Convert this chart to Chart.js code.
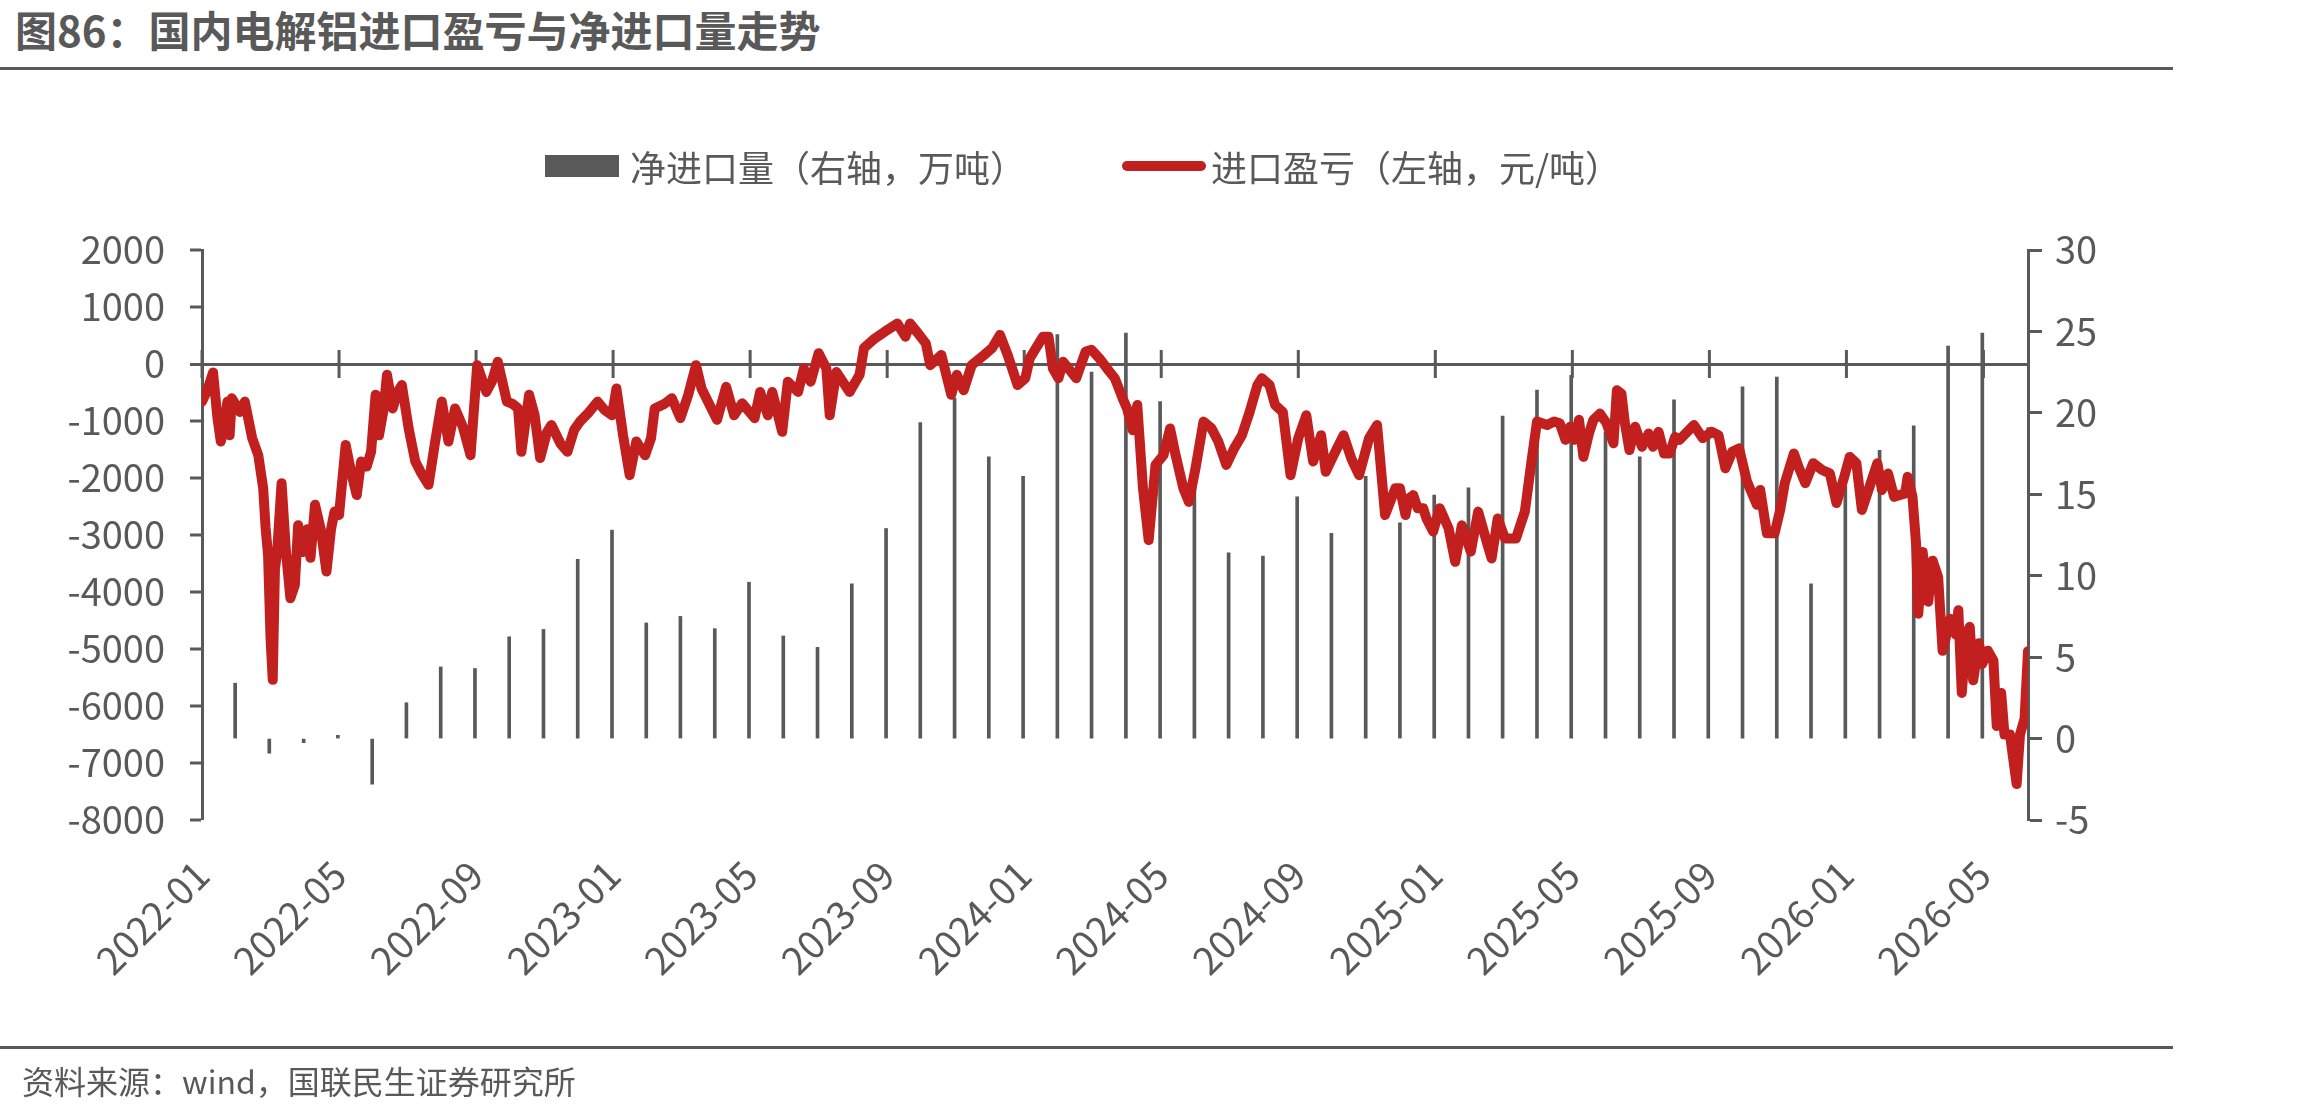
<!DOCTYPE html>
<html lang="zh-CN">
<head>
<meta charset="utf-8">
<title>国内电解铝进口盈亏与净进口量走势</title>
<script src="https://cdn.jsdelivr.net/npm/chart.js@4.4.1/dist/chart.umd.min.js"></script>
<style>
  body { margin: 0; background: #fff; }
  #marco {
    position: relative; width: 2310px; height: 1110px; overflow: hidden;
    font-family: "Noto Sans CJK SC", "Noto Sans", sans-serif; color: #595959;
  }
  #grafico { position: absolute; left: 0; top: 0; }
  .titulo { position: absolute; left: 15px; top: 8px; font-size: 42px; line-height: 42px; font-weight: 700; white-space: nowrap; }
  .regla { position: absolute; left: 0; width: 2173px; height: 3px; background: #595959; }
  .leyenda { position: absolute; top: 148px; font-size: 36px; line-height: 36px; white-space: nowrap; }
  .caja { position: absolute; left: 545px; top: 155px; width: 74px; height: 22px; background: #595959; }
  .linea { position: absolute; left: 1122px; top: 161px; width: 84px; height: 10px; border-radius: 5px; background: #C1201F; }
  .fuente { position: absolute; left: 22px; top: 1064px; font-size: 32px; line-height: 32px; white-space: nowrap; }
</style>
</head>
<body>
<div id="marco">
  <div class="titulo">图86：国内电解铝进口盈亏与净进口量走势</div>
  <div class="regla" style="top:67px"></div>
  <canvas id="grafico" width="2310" height="1110"></canvas>
  <div class="caja"></div>
  <div class="leyenda" style="left:630px">净进口量（右轴，万吨）</div>
  <div class="linea"></div>
  <div class="leyenda" style="left:1211px">进口盈亏（左轴，元/吨）</div>
  <div class="regla" style="top:1046px"></div>
  <div class="fuente">资料来源：wind，国联民生证券研究所</div>
</div>
<script>
// 净进口量（万吨），月度
const importMonths = [
  '2022-01','2022-02','2022-03','2022-04','2022-05','2022-06','2022-07','2022-08','2022-09','2022-10','2022-11','2022-12',
  '2023-01','2023-02','2023-03','2023-04','2023-05','2023-06','2023-07','2023-08','2023-09','2023-10','2023-11','2023-12',
  '2024-01','2024-02','2024-03','2024-04','2024-05','2024-06','2024-07','2024-08','2024-09','2024-10','2024-11','2024-12',
  '2025-01','2025-02','2025-03','2025-04','2025-05','2025-06','2025-07','2025-08','2025-09','2025-10','2025-11','2025-12',
  '2026-01','2026-02','2026-03','2026-04'
];
const netImport = [
  3.4, -0.9, -0.25, 0.2, -2.8, 2.2, 4.4, 4.3, 6.25, 6.7, 11.0, 12.8,
  7.1, 7.5, 6.75, 9.6, 6.3, 5.6, 9.5, 12.9, 19.4, 20.9, 17.3, 16.1,
  24.8, 22.5, 24.9, 20.7, 16.0, 11.4, 11.2, 14.85, 12.6, 16.1, 13.25, 14.95,
  15.4, 19.8, 21.4, 22.3, 18.8, 17.3, 20.8, 19.1, 21.6, 22.2, 9.5, 15.5,
  17.7, 19.2, 24.1, 24.9
];

// 进口盈亏（元/吨），按日期
const profitDates = [
  '2022-01-01','2022-01-06','2022-01-11','2022-01-15','2022-01-18','2022-01-21','2022-01-24','2022-01-26','2022-01-28',
  '2022-02-04','2022-02-08','2022-02-14','2022-02-19','2022-02-23','2022-02-25','2022-02-27',
  '2022-03-01','2022-03-03','2022-03-05','2022-03-07','2022-03-11','2022-03-15','2022-03-19','2022-03-23','2022-03-26','2022-03-30',
  '2022-04-03','2022-04-06','2022-04-10','2022-04-15','2022-04-20','2022-04-24','2022-04-27',
  '2022-05-01','2022-05-07','2022-05-12','2022-05-17','2022-05-21','2022-05-26','2022-05-30',
  '2022-06-03','2022-06-06','2022-06-10','2022-06-13','2022-06-18','2022-06-22','2022-06-26',
  '2022-07-02','2022-07-08','2022-07-13','2022-07-20','2022-07-26',
  '2022-08-01','2022-08-07','2022-08-13','2022-08-20','2022-08-27',
  '2022-09-02','2022-09-10','2022-09-15','2022-09-20','2022-09-28',
  '2022-10-03','2022-10-08','2022-10-11','2022-10-18','2022-10-23','2022-10-28',
  '2022-11-03','2022-11-07','2022-11-15','2022-11-21','2022-11-27',
  '2022-12-02','2022-12-10','2022-12-18','2022-12-24','2022-12-31',
  '2023-01-04','2023-01-10','2023-01-16','2023-01-22','2023-01-30',
  '2023-02-04','2023-02-07','2023-02-15','2023-02-21','2023-02-28',
  '2023-03-07','2023-03-14','2023-03-19',
  '2023-04-02','2023-04-10','2023-04-17','2023-04-24',
  '2023-05-05','2023-05-10','2023-05-17','2023-05-21','2023-05-30',
  '2023-06-04','2023-06-13','2023-06-18','2023-06-24',
  '2023-07-01','2023-07-08','2023-07-11','2023-07-17','2023-07-29',
  '2023-08-07','2023-08-11','2023-08-21','2023-08-30',
  '2023-09-10','2023-09-17','2023-09-21','2023-09-28',
  '2023-10-05','2023-10-09','2023-10-19','2023-10-28',
  '2023-11-02','2023-11-08','2023-11-15','2023-11-26',
  '2023-12-03','2023-12-10','2023-12-17','2023-12-26',
  '2024-01-02','2024-01-06','2024-01-18','2024-01-23','2024-01-27',
  '2024-02-01','2024-02-05','2024-02-16','2024-02-24','2024-02-29',
  '2024-03-07','2024-03-14','2024-03-21','2024-03-28',
  '2024-04-01','2024-04-06','2024-04-10','2024-04-15','2024-04-20','2024-04-26',
  '2024-05-03','2024-05-09','2024-05-14','2024-05-21','2024-05-26',
  '2024-06-01','2024-06-08','2024-06-15','2024-06-21','2024-06-28',
  '2024-07-05','2024-07-12','2024-07-19','2024-07-26','2024-07-30',
  '2024-08-06','2024-08-11','2024-08-18','2024-08-25',
  '2024-09-01','2024-09-08','2024-09-14','2024-09-21','2024-09-25',
  '2024-10-02','2024-10-11','2024-10-18','2024-10-25',
  '2024-11-03','2024-11-10','2024-11-17','2024-11-26','2024-11-30',
  '2024-12-05','2024-12-08','2024-12-12','2024-12-16','2024-12-21','2024-12-24','2024-12-30',
  '2025-01-05','2025-01-13','2025-01-19','2025-01-25',
  '2025-02-02','2025-02-08','2025-02-15','2025-02-19','2025-02-24',
  '2025-03-02','2025-03-12','2025-03-20','2025-03-26','2025-03-31',
  '2025-04-09','2025-04-15','2025-04-20','2025-04-25','2025-04-29',
  '2025-05-03','2025-05-07','2025-05-11','2025-05-16','2025-05-20','2025-05-26',
  '2025-06-01','2025-06-07','2025-06-10','2025-06-14','2025-06-17','2025-06-21','2025-06-26',
  '2025-07-02','2025-07-08','2025-07-12','2025-07-17','2025-07-22','2025-07-27',
  '2025-08-01','2025-08-05','2025-08-18','2025-08-26',
  '2025-09-03','2025-09-09','2025-09-15','2025-09-21','2025-09-27',
  '2025-10-04','2025-10-13','2025-10-16','2025-10-22','2025-10-29',
  '2025-11-03','2025-11-07','2025-11-15','2025-11-19','2025-11-25',
  '2025-12-02','2025-12-10','2025-12-17','2025-12-23','2025-12-30',
  '2026-01-04','2026-01-10','2026-01-15','2026-01-23','2026-01-29',
  '2026-02-02','2026-02-07','2026-02-12','2026-02-21','2026-02-23','2026-02-27',
  '2026-03-02','2026-03-04','2026-03-08','2026-03-13','2026-03-17','2026-03-22','2026-03-26',
  '2026-04-02','2026-04-07','2026-04-09','2026-04-12','2026-04-16','2026-04-19','2026-04-22','2026-04-27','2026-04-30',
  '2026-05-05','2026-05-10','2026-05-13','2026-05-17','2026-05-20','2026-05-25','2026-05-31',
  '2026-06-03','2026-06-07','2026-06-10'
];
const profitValues = [
  -660, -450, -150, -950, -1360, -1100, -660, -1250, -600,
  -840, -660, -1300, -1600, -2180, -2880, -3350,
  -4800, -5540, -3600, -3300, -2090, -3300, -4110, -3880, -2830, -3300,
  -2900, -3400, -2470, -2900, -3640, -2900, -2590,
  -2650, -1420, -1900, -2300, -1710, -1800, -1540,
  -540, -1250, -800, -190, -780, -500, -370,
  -1130, -1710, -1900, -2120, -1360,
  -660, -1360, -780, -1100, -1600,
  -20, -490, -300, 40, -660,
  -700, -780, -1540, -540, -900, -1650,
  -1200, -1070, -1400, -1540, -1150,
  -1010, -850, -660, -800, -900,
  -430, -1250, -1950, -1360, -1600,
  -1300, -780, -700, -600, -950,
  -540, -20, -430,
  -980, -400, -900, -690,
  -950, -490, -900, -490, -1190,
  -310, -490, -80, -310,
  190, -80, -900, -140, -490,
  -190, 280, 450, 570,
  710, 480, 710, 540,
  360, -20, 160, -540,
  -190, -460, -20, 160,
  280, 510, 160, -370,
  -250, 100, 480, 480, -80,
  -250, 40, -250, 220, 250,
  100, -80, -250, -600,
  -780, -1160, -720, -2180, -3090, -1770,
  -1600, -1130, -1600, -2180, -2420,
  -1830, -1010, -1130, -1360, -1770,
  -1480, -1250, -840, -370, -250,
  -370, -720, -840, -1950,
  -1300, -900, -1710, -1250, -1890,
  -1600, -1250, -1660, -1950,
  -1300, -1070, -2650, -2180, -2180,
  -2650, -2360, -2300, -2530, -2530, -2710, -2940,
  -2530, -2880, -3470, -2830,
  -3290, -2590, -3120, -3410, -2710,
  -3060, -3060, -2590, -1710, -1010,
  -1070, -1010, -1040, -1330, -1100,
  -1330, -980, -1630, -1220, -980, -870,
  -1040, -1390, -460, -520, -1040, -1510, -1100,
  -1450, -1220, -1450, -1190, -1570, -1570,
  -1280, -1330, -1070, -1300,
  -1190, -1250, -1830, -1540, -1480,
  -2060, -2470, -2210, -2970, -2970,
  -2560, -2090, -1570, -1800, -2090,
  -1740, -1860, -1920, -2440, -1980,
  -1630, -1740, -2560, -2090, -1740,
  -2210, -1920, -2330, -2270, -1980, -2330,
  -3150, -4380, -3300, -4170, -3450, -3740, -5030,
  -4470, -4750, -4320, -5770, -4750, -4610, -5550, -4900, -5260,
  -5030, -5200, -6350, -5770, -6500, -6500, -7370,
  -6500, -6220, -5040
];

// 横轴刻度
const tickLabels = ['2022-01','2022-05','2022-09','2023-01','2023-05','2023-09','2024-01','2024-05','2024-09','2025-01','2025-05','2025-09','2026-01','2026-05'];

const axisColor = '#595959';
const lineColor = '#C1201F';
const tickFont = { family: '"Noto Sans CJK SC", "Noto Sans", sans-serif', size: 38 };
const ctx = document.getElementById('grafico').getContext('2d');

// 日期 -> 从2022-01起的月份位置
function monthPos(fecha) {
  const [y, m, d] = fecha.split('-').map(Number);
  const dias = new Date(y, m, 0).getDate();
  return (y - 2022) * 12 + (m - 1) + (d - 1) / dias;
}

// 月度数据放在月末
function lastDay(ym) {
  const [y, m] = ym.split('-').map(Number);
  return ym + '-' + new Date(y, m, 0).getDate();
}

const barPoints = importMonths.map((ym, i) => ({ x: monthPos(lastDay(ym)), y: netImport[i] }));
const linePoints = profitDates.map((d, i) => ({ x: monthPos(d), y: profitValues[i] }));
const tickPos = tickLabels.map((t) => monthPos(t + '-01'));
const xMax = linePoints[linePoints.length - 1].x;

// 零轴上的刻度线（上下都露出）
const crossTicks = {
  id: 'crossTicks',
  beforeDatasetsDraw(chart) {
    const { ctx, scales } = chart;
    const y0 = scales.y.getPixelForValue(0);
    ctx.save();
    ctx.strokeStyle = axisColor;
    ctx.lineWidth = 3;
    tickPos.forEach((v) => {
      const px = scales.x.getPixelForValue(v);
      ctx.beginPath();
      ctx.moveTo(px, y0 - 14);
      ctx.lineTo(px, y0 + 14);
      ctx.stroke();
    });
    ctx.restore();
  }
};

const config = {
  type: 'bar',
  data: {
    datasets: [
      {
        type: 'line',
        label: '进口盈亏（左轴，元/吨）',
        data: linePoints,
        yAxisID: 'y',
        borderColor: lineColor,
        borderWidth: 10,
        borderJoinStyle: 'round',
        borderCapStyle: 'round',
        pointRadius: 0,
        tension: 0,
        order: 0
      },
      {
        type: 'bar',
        label: '净进口量（右轴，万吨）',
        data: barPoints,
        yAxisID: 'y2',
        backgroundColor: axisColor,
        barThickness: 3,
        order: 1
      }
    ]
  },
  options: {
    responsive: false,
    maintainAspectRatio: false,
    devicePixelRatio: 1,
    animation: false,
    layout: { padding: { top: 250, left: 0, right: 0, bottom: 0 } },
    plugins: { legend: { display: false }, tooltip: { enabled: false } },
    scales: {
      x: {
        type: 'linear',
        min: 0,
        max: xMax,
        offset: false,
        grid: { display: false, drawTicks: false, offset: false },
        border: { display: false },
        afterBuildTicks: (scale) => { scale.ticks = tickPos.map((v) => ({ value: v })); },
        afterFit: (scale) => { scale.height = 290; },
        ticks: {
          autoSkip: false,
          minRotation: 45,
          maxRotation: 45,
          padding: 32,
          color: axisColor,
          font: tickFont,
          callback: (value, index) => tickLabels[index]
        }
      },
      y: {
        position: 'left',
        min: -8000,
        max: 2000,
        afterFit: (scale) => { scale.width = 202; },
        ticks: { stepSize: 1000, padding: 25, color: axisColor, font: tickFont, callback: (value) => String(value) },
        grid: {
          color: (c) => (c.tick && c.tick.value === 0 ? axisColor : 'rgba(0,0,0,0)'),
          lineWidth: (c) => (c.tick && c.tick.value === 0 ? 3 : 0),
          tickLength: 12,
          tickColor: axisColor,
          tickWidth: 3
        },
        border: { display: true, color: axisColor, width: 3 }
      },
      y2: {
        position: 'right',
        min: -5,
        max: 30,
        afterFit: (scale) => { scale.width = 282; },
        ticks: { stepSize: 5, padding: 13, color: axisColor, font: tickFont, callback: (value) => String(value) },
        grid: { drawOnChartArea: false, tickLength: 14, tickColor: axisColor, tickWidth: 3 },
        border: { display: true, color: axisColor, width: 3 }
      }
    }
  },
  plugins: [crossTicks]
};

window.grafico = new Chart(ctx, config);
</script>
</body>
</html>
